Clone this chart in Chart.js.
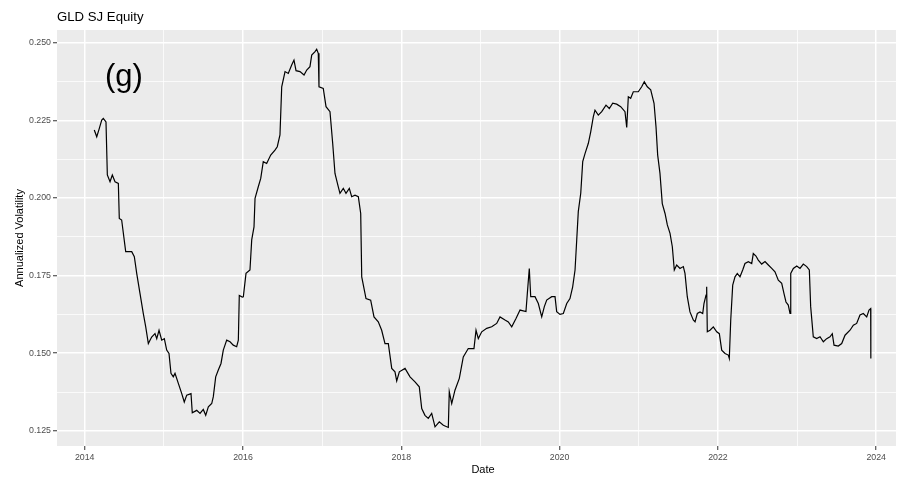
<!DOCTYPE html>
<html><head><meta charset="utf-8">
<script src="https://cdn.jsdelivr.net/npm/chart.js@4.4.0/dist/chart.umd.min.js"></script>
<style>html,body{margin:0;padding:0;background:#fff;}#wrap{width:902px;height:478px;}</style>
</head><body><div id="wrap"><canvas id="c" width="902" height="478"></canvas></div>
<script>
// ---- data (decimal years, annualized volatility) ----
const dates = [
2014.121,2014.152,2014.181,2014.215,2014.235,2014.269,2014.286,2014.320,2014.349,2014.383,
2014.425,2014.437,2014.467,2014.518,2014.594,2014.627,2014.657,2014.699,2014.740,2014.771,
2014.804,2014.846,2014.888,2014.910,2014.939,2014.973,2015.006,2015.036,2015.065,2015.090,
2015.119,2015.141,2015.183,2015.226,2015.258,2015.289,2015.343,2015.359,2015.415,2015.457,
2015.498,2015.529,2015.562,2015.605,2015.625,2015.655,2015.688,2015.722,2015.751,2015.794,
2015.836,2015.877,2015.920,2015.941,2015.953,2015.991,2016.004,2016.038,2016.088,2016.110,
2016.139,2016.152,2016.193,2016.224,2016.256,2016.299,2016.350,2016.404,2016.433,2016.467,
2016.489,2016.531,2016.572,2016.615,2016.644,2016.670,2016.720,2016.771,2016.805,2016.846,
2016.868,2016.910,2016.931,2016.951,2016.960,2017.014,2017.049,2017.099,2017.133,2017.162,
2017.204,2017.225,2017.267,2017.301,2017.343,2017.373,2017.415,2017.457,2017.487,2017.500,
2017.554,2017.613,2017.655,2017.709,2017.752,2017.794,2017.836,2017.879,2017.920,2017.942,
2017.975,2018.047,2018.110,2018.173,2018.227,2018.258,2018.299,2018.341,2018.384,2018.426,
2018.480,2018.531,2018.594,2018.606,2018.637,2018.678,2018.733,2018.783,2018.846,2018.918,
2018.944,2018.973,2019.016,2019.079,2019.142,2019.205,2019.247,2019.310,2019.352,2019.395,
2019.449,2019.500,2019.575,2019.592,2019.617,2019.635,2019.689,2019.731,2019.774,2019.807,
2019.837,2019.900,2019.942,2019.963,2020.005,2020.047,2020.090,2020.131,2020.165,2020.195,
2020.216,2020.236,2020.267,2020.292,2020.321,2020.363,2020.393,2020.426,2020.447,2020.489,
2020.532,2020.586,2020.628,2020.671,2020.721,2020.772,2020.826,2020.848,2020.868,2020.898,
2020.931,2020.994,2021.037,2021.070,2021.108,2021.151,2021.193,2021.218,2021.239,2021.268,
2021.297,2021.332,2021.361,2021.395,2021.424,2021.449,2021.479,2021.521,2021.563,2021.584,
2021.613,2021.647,2021.689,2021.711,2021.740,2021.774,2021.808,2021.824,2021.850,2021.858,
2021.866,2021.900,2021.942,2021.985,2022.018,2022.048,2022.090,2022.131,2022.144,2022.162,
2022.187,2022.216,2022.245,2022.279,2022.313,2022.342,2022.384,2022.427,2022.447,2022.481,
2022.510,2022.553,2022.595,2022.637,2022.680,2022.721,2022.763,2022.806,2022.835,2022.860,
2022.889,2022.911,2022.920,2022.953,2022.996,2023.037,2023.079,2023.122,2023.155,2023.172,
2023.205,2023.248,2023.290,2023.332,2023.374,2023.416,2023.445,2023.467,2023.521,2023.564,
2023.606,2023.669,2023.711,2023.753,2023.795,2023.837,2023.880,2023.909,2023.930,2023.932
];
const vol = [
0.2219,0.2197,0.2221,0.2251,0.2256,0.2245,0.2074,0.2052,0.2074,0.2052,
0.2047,0.1934,0.1929,0.1827,0.1827,0.1811,0.1757,0.1692,0.1628,0.1585,
0.1531,0.1552,0.1563,0.1547,0.1574,0.1542,0.1547,0.1510,0.1499,0.1435,
0.1424,0.1435,0.1403,0.1370,0.1343,0.1365,0.1370,0.1308,0.1316,0.1306,
0.1319,0.1300,0.1327,0.1338,0.1360,0.1424,0.1446,0.1467,0.1510,0.1542,
0.1537,0.1526,0.1521,0.1542,0.1686,0.1681,0.1682,0.1757,0.1768,0.1865,
0.1907,0.1999,0.2036,0.2063,0.2117,0.2111,0.2138,0.2154,0.2165,0.2203,
0.2358,0.2407,0.2401,0.2428,0.2444,0.2410,0.2407,0.2396,0.2412,0.2423,
0.2460,0.2471,0.2479,0.2466,0.2358,0.2353,0.2294,0.2278,0.2176,0.2079,
0.2036,0.2015,0.2031,0.2015,0.2031,0.2004,0.2009,0.2004,0.1950,0.1746,
0.1676,0.1671,0.1617,0.1601,0.1574,0.1531,0.1531,0.1451,0.1440,0.1411,
0.1440,0.1451,0.1424,0.1408,0.1392,0.1322,0.1300,0.1290,0.1306,0.1263,
0.1279,0.1268,0.1261,0.1376,0.1338,0.1381,0.1419,0.1488,0.1515,0.1515,
0.1574,0.1547,0.1569,0.1580,0.1585,0.1596,0.1617,0.1607,0.1601,0.1585,
0.1612,0.1639,0.1634,0.1692,0.1773,0.1682,0.1682,0.1660,0.1617,0.1650,
0.1671,0.1682,0.1682,0.1634,0.1625,0.1628,0.1660,0.1676,0.1714,0.1768,
0.1864,0.1956,0.2015,0.2117,0.2143,0.2176,0.2213,0.2262,0.2283,0.2267,
0.2278,0.2299,0.2288,0.2305,0.2302,0.2294,0.2278,0.2227,0.2326,0.2321,
0.2342,0.2342,0.2358,0.2374,0.2358,0.2348,0.2305,0.2229,0.2138,0.2079,
0.1982,0.1950,0.1913,0.1886,0.1843,0.1768,0.1784,0.1773,0.1779,0.1757,
0.1682,0.1633,0.1607,0.1601,0.1628,0.1633,0.1628,0.1660,0.1687,0.1714,
0.1569,0.1574,0.1585,0.1569,0.1563,0.1510,0.1499,0.1494,0.1483,0.1607,
0.1719,0.1746,0.1757,0.1746,0.1768,0.1789,0.1795,0.1789,0.1821,0.1813,
0.1800,0.1787,0.1795,0.1784,0.1773,0.1762,0.1735,0.1725,0.1692,0.1665,
0.1655,0.1628,0.1757,0.1773,0.1781,0.1773,0.1787,0.1779,0.1768,0.1650,
0.1553,0.1547,0.1553,0.1537,0.1547,0.1553,0.1563,0.1526,0.1523,0.1531,
0.1558,0.1574,0.1590,0.1596,0.1623,0.1628,0.1617,0.1639,0.1644,0.1483
];
const yearTicks = [2014, 2016, 2018, 2020, 2022, 2024];
const volTicks = [0.125, 0.150, 0.175, 0.200, 0.225, 0.250];
const titleText = 'GLD SJ Equity';
const panelLabel = '(g)';
const xTitle = 'Date';
const yTitle = 'Annualized Volatility';

// ---- helpers ----
function withMinors(majors) {
  const out = [];
  for (let i = 0; i < majors.length; i++) {
    out.push({value: majors[i], major: true});
    if (i < majors.length - 1) out.push({value: (majors[i] + majors[i+1]) / 2, major: false});
  }
  return out;
}
const FONT = '"Liberation Sans", Arial, Helvetica, sans-serif';
const isMajorTick = (ctx) => ctx.tick && ctx.tick.major;

const gridOpts = {
  color: '#ffffff',
  lineWidth: (ctx) => isMajorTick(ctx) ? 1.5 : 0.75,
  tickColor: (ctx) => isMajorTick(ctx) ? '#333333' : 'rgba(0,0,0,0)',
  tickWidth: 1,
  tickLength: 4,
  drawTicks: true
};

const bgPlugin = {
  id: 'panelBg',
  beforeDraw(chart) {
    const {ctx, chartArea: a} = chart;
    ctx.save();
    ctx.fillStyle = '#ffffff';
    ctx.fillRect(0, 0, chart.width, chart.height);
    ctx.fillStyle = '#EBEBEB';
    ctx.fillRect(a.left, a.top, a.right - a.left, a.bottom - a.top);
    ctx.restore();
  }
};
const textPlugin = {
  id: 'texts',
  afterDraw(chart) {
    const {ctx, chartArea: a} = chart;
    ctx.save();
    ctx.fillStyle = '#000000';
    ctx.textAlign = 'left';
    ctx.textBaseline = 'alphabetic';
    ctx.font = '13.2px ' + FONT;
    ctx.fillText(titleText, a.left, 21);
    ctx.font = '31px ' + FONT;
    ctx.fillText(panelLabel, 105, 86);
    ctx.font = '11px ' + FONT;
    ctx.textAlign = 'center';
    ctx.fillText(xTitle, 483, 473);
    ctx.translate(22.5, (a.top + a.bottom) / 2);
    ctx.rotate(-Math.PI / 2);
    ctx.fillText(yTitle, 0, 0);
    ctx.restore();
  }
};

new Chart(document.getElementById('c'), {
  type: 'line',
  data: {
    datasets: [{
      data: dates.map((d, i) => ({x: d, y: vol[i]})),
      borderColor: '#000000',
      borderWidth: 1.2,
      pointRadius: 0,
      tension: 0,
      fill: false
    }]
  },
  options: {
    responsive: false,
    animation: false,
    devicePixelRatio: 1,
    layout: {padding: {top: 30, right: 6, left: 0, bottom: 0}},
    plugins: {legend: {display: false}, tooltip: {enabled: false}, title: {display: false}},
    scales: {
      x: {
        type: 'linear', min: 2013.65, max: 2024.25,
        afterBuildTicks: (s) => { s.ticks = withMinors(yearTicks); },
        afterFit: (s) => { s.height = 32; },
        border: {display: false},
        grid: gridOpts,
        ticks: {
          autoSkip: false, maxRotation: 0, minRotation: 0, padding: 2,
          color: '#4D4D4D', font: {family: FONT, size: 8.8},
          callback: (v) => yearTicks.includes(v) ? String(v) : ''
        }
      },
      y: {
        type: 'linear', min: 0.12012, max: 0.25409,
        afterBuildTicks: (s) => { s.ticks = withMinors(volTicks); },
        afterFit: (s) => { s.width = 57; },
        border: {display: false},
        grid: gridOpts,
        ticks: {
          autoSkip: false, padding: 2,
          color: '#4D4D4D', font: {family: FONT, size: 8.8},
          callback: (v) => volTicks.some(t => Math.abs(t - v) < 1e-9) ? v.toFixed(3) : ''
        }
      }
    }
  },
  plugins: [bgPlugin, textPlugin]
});
</script>
</body></html>
